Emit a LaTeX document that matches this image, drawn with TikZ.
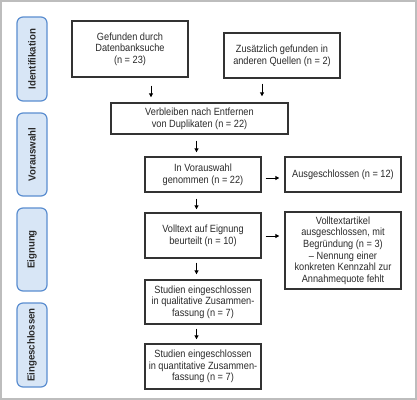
\documentclass[tikz,border=0pt]{standalone}
\usepackage{fontspec}
\setmainfont{Liberation Sans}[FakeStretch=0.88]
\newfontfamily\sidefont{Liberation Sans}[FakeStretch=0.95]
\usetikzlibrary{arrows.meta}
\definecolor{sidefill}{HTML}{D8E6F6}
\definecolor{sideline}{HTML}{5B8ED0}
\definecolor{boxline}{HTML}{333333}
\definecolor{textcol}{HTML}{2A2A2A}
\definecolor{frameline}{HTML}{BDBDBD}
\tikzset{
  flowbox/.style={draw=boxline, line width=1.4bp, fill=white, align=center,
    inner sep=1bp, text=textcol, font=\fontsize{10.5}{11.7}\selectfont},
  sidebox/.style={draw=sideline, line width=1.2bp, fill=sidefill, rounded corners=6bp,
    rotate=90, minimum height=30bp, inner sep=0pt, text=textcol,
    font=\sidefont\fontsize{10.2}{12}\selectfont\bfseries},
  arr/.style={-{Triangle[length=4bp,width=4bp]}, line width=1bp, draw=black}
}
\begin{document}
\begin{tikzpicture}[x=1bp,y=-1bp]
\useasboundingbox (0,0) rectangle (417,400);
\draw[frameline, line width=1.3bp] (1,1) rectangle (416,399);

% side labels
\node[sidebox, minimum width=84bp] (ident) at (32,59) {Identifikation};
\node[sidebox, minimum width=83bp] (vaw) at (32,154.5) {Vorauswahl};
\node[sidebox, minimum width=83bp] (eig) at (32,249.5) {Eignung};
\node[sidebox, minimum width=84bp] (ein) at (32,345) {Eingeschlossen};

% flow boxes
\node[flowbox, minimum width=116bp, minimum height=56bp] (gef) at (130,49)
  {Gefunden durch\\Datenbanksuche\\(n = 23)};
\node[flowbox, minimum width=116bp, minimum height=45bp] (zus) at (282,55.5)
  {Zusätzlich gefunden in\\anderen Quellen (n = 2)};
\node[flowbox, minimum width=177bp, minimum height=31bp] (verb) at (199.5,118.5)
  {Verbleiben nach Entfernen\\von Duplikaten (n = 22)};
\node[flowbox, minimum width=116bp, minimum height=35bp] (vor) at (203,174.5)
  {In Vorauswahl\\genommen (n = 22)};
\node[flowbox, minimum width=116bp, minimum height=35bp] (aus) at (343,174.5)
  {Ausgeschlossen (n = 12)};
\node[flowbox, minimum width=116bp, minimum height=45bp] (voll) at (203,235.5)
  {Volltext auf Eignung\\beurteilt (n = 10)};
\node[flowbox, minimum width=116bp, minimum height=77bp] (vta) at (343,250.5)
  {Volltextartikel\\ausgeschlossen, mit\\Begründung (n = 3)\\– Nennung einer\\konkreten Kennzahl zur\\Annahmequote fehlt};
\node[flowbox, minimum width=116bp, minimum height=44bp] (qual) at (203,302)
  {Studien eingeschlossen\\in qualitative Zusammen-\\fassung (n = 7)};
\node[flowbox, minimum width=116bp, minimum height=45bp] (quant) at (203,366.5)
  {Studien eingeschlossen\\in quantitative Zusammen-\\fassung (n = 7)};

% arrow columns
\coordinate (c1) at (151,0);
\coordinate (c2) at (262,0);
\coordinate (c3) at (196.5,0);
\coordinate (r1) at (0,178);
\coordinate (r2) at (0,236);

\draw[arr, shorten <=8bp, shorten >=5bp] (gef.south -| c1) -- (verb.north -| c1);
\draw[arr, shorten <=5bp, shorten >=6bp] (zus.south -| c2) -- (verb.north -| c2);
\draw[arr, shorten <=6bp, shorten >=4bp] (verb.south -| c3) -- (vor.north -| c3);
\draw[arr, shorten <=6bp, shorten >=3bp] (vor.south -| c3) -- (voll.north -| c3);
\draw[arr, shorten <=4bp, shorten >=5bp] (vor.east |- r1) -- (aus.west |- r1);
\draw[arr, shorten <=4bp, shorten >=5bp] (voll.east |- r2) -- (vta.west |- r2);
\draw[arr, shorten <=4bp, shorten >=5bp] (voll.south -| c3) -- (qual.north -| c3);
\draw[arr, shorten <=4bp, shorten >=4bp] (qual.south -| c3) -- (quant.north -| c3);
\end{tikzpicture}
\end{document}
